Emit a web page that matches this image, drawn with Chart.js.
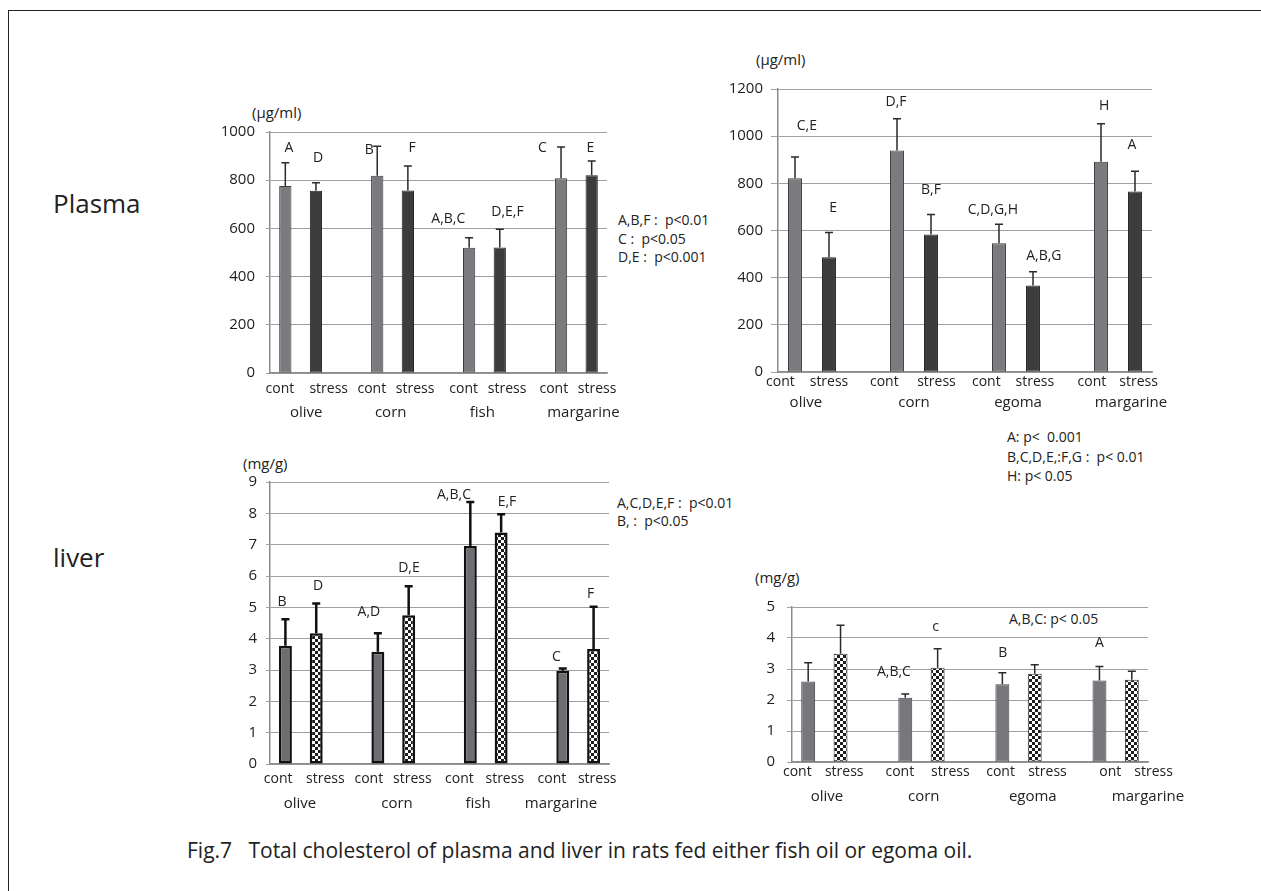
<!DOCTYPE html>
<html>
<head>
<meta charset="utf-8">
<script src="https://cdn.jsdelivr.net/npm/chart.js@4.4.0/dist/chart.umd.min.js"></script>
<style>
  html, body { margin: 0; padding: 0; background: #fff; }
  body { width: 1261px; height: 891px; position: relative; overflow: hidden; font-family: "Open Sans", sans-serif; color: #222; }
  .frame { position: absolute; left: 8px; top: 10px; width: 1300px; height: 900px; border-top: 1px solid #222; border-left: 1px solid #222; }
  canvas { position: absolute; }
  .t { position: absolute; line-height: 1; white-space: pre; transform: translateY(-50%); }
</style>
</head>
<body>
<div class="frame"></div>

<div class="t" style="left:53px; top:203px; font-size:26px;">Plasma</div>
<div class="t" style="left:53px; top:557px; font-size:26px;">liver</div>

<div class="t" style="left:252px; top:112px; font-size:15px;">(µg/ml)</div>
<div class="t" style="left:756px; top:59px; font-size:15px;">(µg/ml)</div>
<div class="t" style="left:243px; top:463px; font-size:15px;">(mg/g)</div>
<div class="t" style="left:755px; top:577px; font-size:15px;">(mg/g)</div>

<div class="t" style="left:618px; top:220px; font-size:14px;">A,B,F :  p&lt;0.01</div>
<div class="t" style="left:618px; top:239px; font-size:14px;">C :  p&lt;0.05</div>
<div class="t" style="left:618px; top:257px; font-size:14px;">D,E :  p&lt;0.001</div>

<div class="t" style="left:1007px; top:437px; font-size:14px;">A: p&lt;  0.001</div>
<div class="t" style="left:1007px; top:457px; font-size:14px;">B,C,D,E,:F,G :  p&lt; 0.01</div>
<div class="t" style="left:1007px; top:476px; font-size:14px;">H: p&lt; 0.05</div>

<div class="t" style="left:617px; top:503px; font-size:14px;">A,C,D,E,F :  p&lt;0.01</div>
<div class="t" style="left:617px; top:521px; font-size:14px;">B, :  p&lt;0.05</div>

<div class="t" style="left:1009px; top:619px; font-size:14px;">A,B,C: p&lt; 0.05</div>

<div class="t" style="left:187px; top:850px; font-size:21px;">Fig.7   Total cholesterol of plasma and liver in rats fed either fish oil or egoma oil.</div>

<canvas id="plasma1"></canvas>
<canvas id="plasma2"></canvas>
<canvas id="liver1"></canvas>
<canvas id="liver2"></canvas>

<script>
// x slots: cont, stress, gap, cont, stress, gap ...
const ticksA = ['cont', 'stress', '', 'cont', 'stress', '', 'cont', 'stress', '', 'cont', 'stress'];
const ticksB = ['cont', 'stress', '', 'cont', 'stress', '', 'cont', 'stress', '', 'ont', 'stress'];

// plasma, fish oil experiment (µg/ml)
const groups1 = ['olive', 'corn', 'fish', 'margarine'];
const plasma1Cont = [776, 818, 520, 808];
const plasma1ContSD = [96, 123, 41, 130];
const plasma1Stress = [756, 757, 521, 821];
const plasma1StressSD = [33, 102, 75, 59];
const plasma1Letters = ['A', 'D', 'B', 'F', 'A,B,C', 'D,E,F', 'C', 'E'];
const plasma1LetterSlot = [0.12, 1.07, 2.74, 4.14, 5.32, 7.25, 8.39, 9.96];
const plasma1LetterAt = [934, 892, 927, 934, 639, 669, 934, 934];
const plasma1GroupSlot = [0.68, 3.44, 6.43, 9.73];

// plasma, egoma oil experiment (µg/ml)
const groups2 = ['olive', 'corn', 'egoma', 'margarine'];
const plasma2Cont = [822, 939, 546, 891];
const plasma2ContSD = [90, 135, 81, 162];
const plasma2Stress = [487, 583, 367, 765];
const plasma2StressSD = [105, 85, 58, 86];
const plasma2Letters = ['C,E', 'E', 'D,F', 'B,F', 'C,D,G,H', 'A,B,G', 'H', 'A'];
const plasma2LetterSlot = [0.35, 1.12, 2.97, 4.0, 5.82, 7.32, 9.09, 9.91];
const plasma2LetterAt = [1045, 697, 1146, 772, 688, 493, 1129, 961];
const plasma2GroupSlot = [0.32, 3.5, 6.56, 9.88];

// liver, fish oil experiment (mg/g)
const liver1Cont = [3.77, 3.58, 6.96, 2.98];
const liver1ContSD = [0.85, 0.59, 1.40, 0.07];
const liver1Stress = [4.17, 4.75, 7.39, 3.67];
const liver1StressSD = [0.95, 0.92, 0.58, 1.35];
const liver1Letters = ['B', 'D', 'A,D', 'D,E', 'A,B,C', 'E,F', 'C', 'F'];
const liver1LetterSlot = [-0.11, 1.06, 2.71, 4.01, 5.47, 7.19, 8.79, 9.9];
const liver1LetterAt = [5.18, 5.69, 4.84, 6.24, 8.60, 8.36, 3.40, 5.44];
const liver1GroupSlot = [0.47, 3.62, 6.25, 8.94];

// liver, egoma oil experiment (mg/g)
const liver2Cont = [2.60, 2.07, 2.51, 2.63];
const liver2ContSD = [0.60, 0.12, 0.37, 0.45];
const liver2Stress = [3.49, 3.04, 2.85, 2.65];
const liver2StressSD = [0.92, 0.61, 0.29, 0.28];
const liver2Letters = ['A,B,C', 'c', 'B', 'A'];
const liver2LetterSlot = [2.65, 3.94, 6.01, 9.0];
const liver2LetterAt = [2.90, 4.36, 3.51, 3.83];
const liver2GroupSlot = [0.58, 3.57, 6.94, 10.5];

// put group values into the 11 x slots
function spread(vals, offset) {
    const out = new Array(11).fill(null);
    vals.forEach((v, g) => { out[3 * g + offset] = v; });
    return out;
}

// black / white checker used for the stress bars of the liver charts
function checker() {
    const c = document.createElement('canvas');
    c.width = 6; c.height = 6;
    const g = c.getContext('2d');
    g.fillStyle = '#fff'; g.fillRect(0, 0, 6, 6);
    g.fillStyle = '#1e1e1e'; g.fillRect(0, 0, 3, 3); g.fillRect(3, 3, 3, 3);
    return g.createPattern(c, 'repeat');
}

// upward error bars
const errorBars = {
    id: 'errorBars',
    afterDatasetsDraw(chart, args, opts) {
        const ctx = chart.ctx, y = chart.scales.y;
        ctx.save();
        ctx.strokeStyle = opts.color;
        ctx.lineWidth = opts.width;
        chart.data.datasets.forEach((ds, i) => {
            const meta = chart.getDatasetMeta(i);
            ds.data.forEach((v, j) => {
                if (v == null || ds.sd[j] == null) return;
                const bar = meta.data[j];
                const top = y.getPixelForValue(v + ds.sd[j]);
                ctx.beginPath();
                ctx.moveTo(bar.x, bar.y);
                ctx.lineTo(bar.x, top);
                ctx.moveTo(bar.x - opts.cap, top);
                ctx.lineTo(bar.x + opts.cap, top);
                ctx.stroke();
            });
        });
        ctx.restore();
    }
};

// significance letters and oil names under the axis
const chartTexts = {
    id: 'chartTexts',
    afterDraw(chart, args, opts) {
        const ctx = chart.ctx, x = chart.scales.x, y = chart.scales.y;
        ctx.save();
        ctx.fillStyle = '#222';
        ctx.textAlign = 'center';
        ctx.textBaseline = 'middle';
        ctx.font = opts.letterSize + 'px "Open Sans"';
        opts.letters.forEach((t, k) => {
            ctx.fillText(t, x.getPixelForValue(opts.letterSlot[k]), y.getPixelForValue(opts.letterAt[k]));
        });
        ctx.font = '15px "Open Sans"';
        opts.groups.forEach((t, k) => {
            ctx.fillText(t, x.getPixelForValue(opts.groupSlot[k]), chart.chartArea.bottom + opts.groupOffset);
        });
        ctx.restore();
    }
};

// the cont/stress labels sit a little off the bar centres in the original,
// nudge them with spaces (about 1.8px per space at 14px)
function nudge(label, shift) {
    if (!label) return '';
    const sp = ' '.repeat(Math.round(Math.abs(shift) / 1.8));
    return shift < 0 ? label + sp : sp + label;
}

function buildChart(id, plot, c) {
    const canvas = document.getElementById(id);
    canvas.width = plot.r - plot.l + 100;
    canvas.height = plot.b - plot.t + 75;
    canvas.style.left = (plot.l - 60) + 'px';
    canvas.style.top = (plot.t - 20) + 'px';

    return new Chart(canvas, {
        type: 'bar',
        data: {
            labels: c.labels,
            datasets: [
                Object.assign({ label: 'cont', data: spread(c.cont, 0), sd: spread(c.contSD, 0) }, c.contStyle),
                Object.assign({ label: 'stress', data: spread(c.stress, 1), sd: spread(c.stressSD, 1) }, c.stressStyle)
            ]
        },
        options: {
            responsive: false,
            maintainAspectRatio: false,
            animation: false,
            layout: { padding: { top: 20, right: 40, left: 0, bottom: 0 } },
            datasets: { bar: { barPercentage: c.barPct, categoryPercentage: 1, borderSkipped: false } },
            plugins: {
                legend: { display: false },
                tooltip: { enabled: false },
                errorBars: c.err,
                chartTexts: {
                    letters: c.letters, letterSlot: c.letterSlot, letterAt: c.letterAt, letterSize: 14,
                    groups: c.groups, groupSlot: c.groupSlot, groupOffset: c.groupOffset
                }
            },
            scales: {
                x: {
                    stacked: true,
                    grid: { display: false, drawTicks: false },
                    border: { display: true, color: '#8c8c8c', width: 1.5 },
                    ticks: {
                        color: '#222', font: { family: 'Open Sans', size: 14 }, padding: c.xPad,
                        maxRotation: 0, autoSkip: false,
                        callback: function (value, index) { return nudge(this.getLabelForValue(value), c.tickShift[index]); }
                    },
                    afterFit: s => { s.height = 55; }
                },
                y: {
                    min: 0, max: c.max,
                    grid: { color: '#a0a0a0', lineWidth: 1, tickLength: c.tickLen },
                    border: { display: true, color: '#8c8c8c', width: 1.5 },
                    ticks: { stepSize: c.step, color: '#222', font: { family: 'Open Sans', size: 15 }, padding: c.yPad, callback: v => String(v) },
                    afterFit: s => { s.width = 60; }
                }
            }
        },
        plugins: [errorBars, chartTexts]
    });
}

const pattern = checker();
const plainCont = { backgroundColor: '#7a7b7e', borderColor: '#3a3a3a', borderWidth: 1 };
const plainStress = { backgroundColor: '#3c3c3e', borderColor: '#222', borderWidth: 1 };

buildChart('plasma1', { l: 270, t: 132, r: 607, b: 373 }, {
    labels: ticksA, cont: plasma1Cont, contSD: plasma1ContSD, stress: plasma1Stress, stressSD: plasma1StressSD,
    max: 1000, step: 200, barPct: 0.4, tickLen: 4, yPad: 11, xPad: 8,
    tickShift: [-5, 12, 0, -6, 8, 0, -5, 7, 0, -7, 6],
    contStyle: plainCont, stressStyle: plainStress,
    err: { color: '#2a2a2a', width: 1.5, cap: 4 },
    letters: plasma1Letters, letterSlot: plasma1LetterSlot, letterAt: plasma1LetterAt,
    groups: groups1, groupSlot: plasma1GroupSlot, groupOffset: 40
});

buildChart('plasma2', { l: 778, t: 89, r: 1152, b: 372 }, {
    labels: ticksA, cont: plasma2Cont, contSD: plasma2ContSD, stress: plasma2Stress, stressSD: plasma2StressSD,
    max: 1200, step: 200, barPct: 0.41, tickLen: 7, yPad: 8, xPad: 2,
    tickShift: [-14, 0, 0, -12, 5, 0, -12, 1, 0, -9, 4],
    contStyle: plainCont, stressStyle: plainStress,
    err: { color: '#2a2a2a', width: 1.5, cap: 4 },
    letters: plasma2Letters, letterSlot: plasma2LetterSlot, letterAt: plasma2LetterAt,
    groups: groups2, groupSlot: plasma2GroupSlot, groupOffset: 31
});

buildChart('liver1', { l: 270, t: 482, r: 609, b: 764 }, {
    labels: ticksA, cont: liver1Cont, contSD: liver1ContSD, stress: liver1Stress, stressSD: liver1StressSD,
    max: 9, step: 1, barPct: 0.42, tickLen: 4, yPad: 9, xPad: 7,
    tickShift: [-8, 9, 0, -9, 3, 0, -10, 3, 0, -10, 3],
    contStyle: { backgroundColor: '#6d6e71', borderColor: '#111', borderWidth: 2.5 },
    stressStyle: { backgroundColor: pattern, borderColor: '#111', borderWidth: 2.5 },
    err: { color: '#111', width: 2.5, cap: 4 },
    letters: liver1Letters, letterSlot: liver1LetterSlot, letterAt: liver1LetterAt,
    groups: groups1, groupSlot: liver1GroupSlot, groupOffset: 40
});

buildChart('liver2', { l: 792, t: 606, r: 1148, b: 762 }, {
    labels: ticksB, cont: liver2Cont, contSD: liver2ContSD, stress: liver2Stress, stressSD: liver2StressSD,
    max: 5, step: 1, barPct: 0.43, tickLen: 5, yPad: 12, xPad: 2,
    tickShift: [-11, 3, 0, -5, 13, 0, -1, 13, 0, 10, 21],
    contStyle: { backgroundColor: '#77787b', borderColor: '#444', borderWidth: 1 },
    stressStyle: { backgroundColor: pattern, borderColor: '#333', borderWidth: 1 },
    err: { color: '#2a2a2a', width: 1.5, cap: 4 },
    letters: liver2Letters, letterSlot: liver2LetterSlot, letterAt: liver2LetterAt,
    groups: groups2, groupSlot: liver2GroupSlot, groupOffset: 35
});
</script>
</body>
</html>
